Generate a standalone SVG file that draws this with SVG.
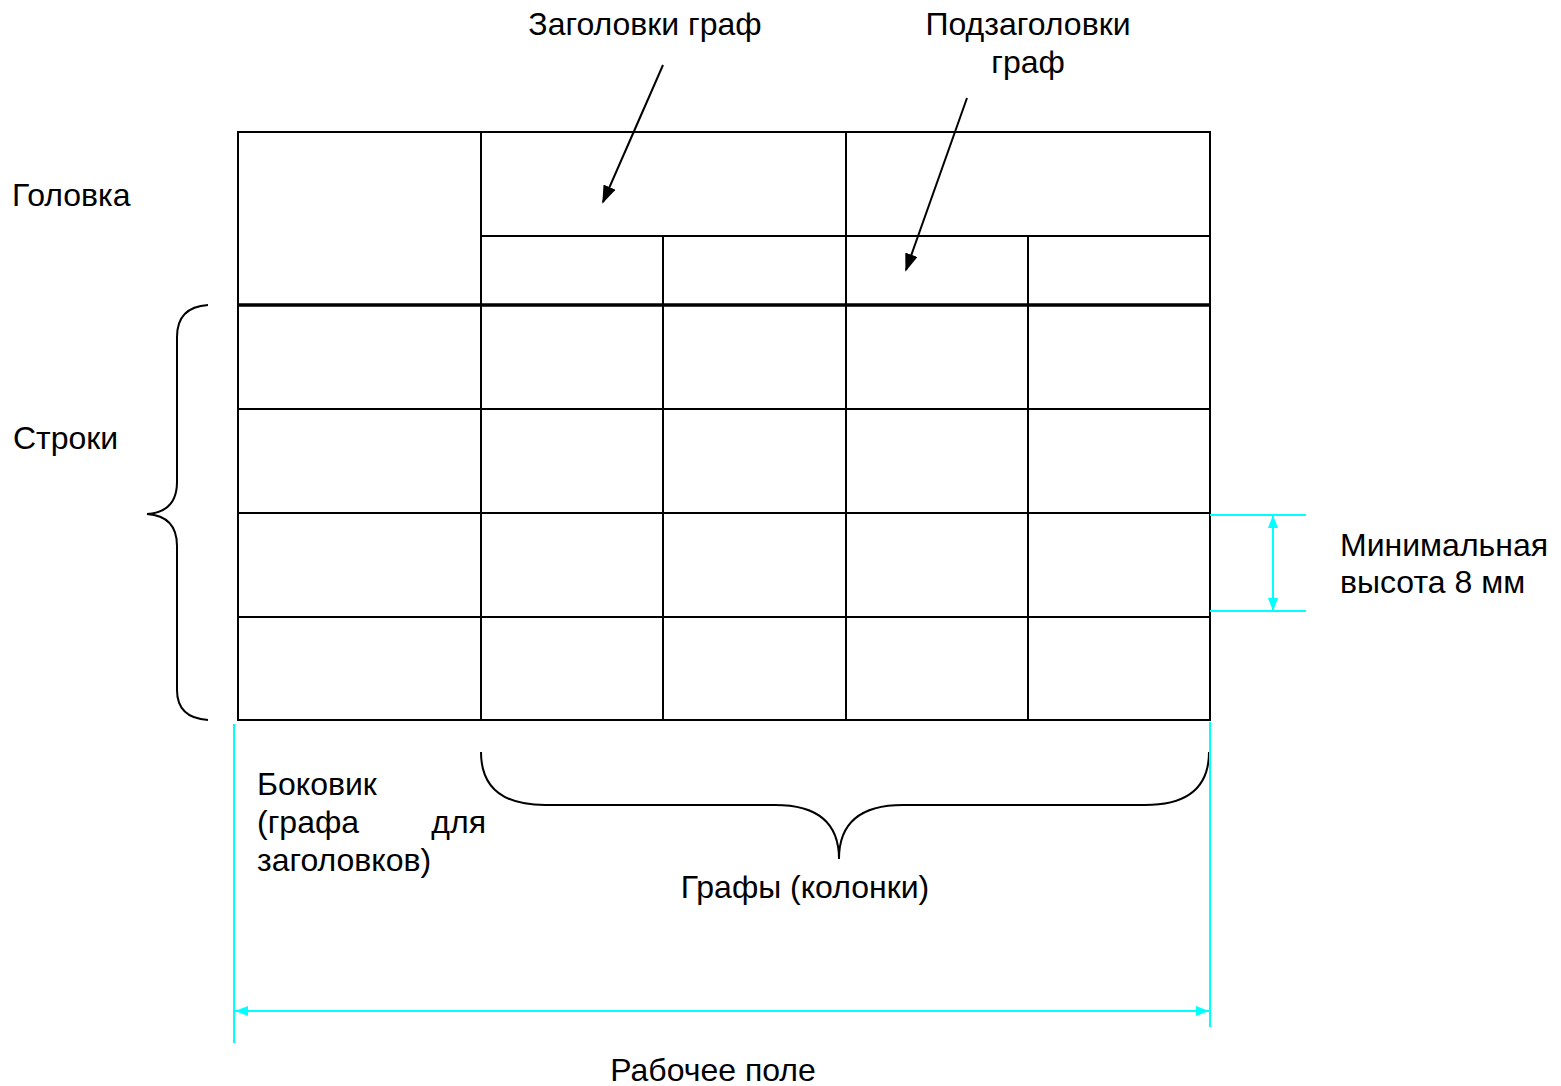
<svg xmlns="http://www.w3.org/2000/svg" width="1561" height="1086" viewBox="0 0 1561 1086">
  <style>
    .t { font-family: "Liberation Sans", Arial, sans-serif; font-size: 32px; fill: #000; }
    .grid { stroke: #000; stroke-width: 2; fill: none; }
    .thick { stroke: #000; stroke-width: 3.5; fill: none; }
    .brace { stroke: #000; stroke-width: 2; fill: none; }
    .cy { stroke: #00ffff; stroke-width: 2; fill: none; }
    .ptr { stroke: #000; stroke-width: 2; fill: none; }
  </style>
  <defs>
    <marker id="ah" viewBox="0 0 10 10" refX="9" refY="5" markerWidth="18" markerHeight="13" markerUnits="userSpaceOnUse" orient="auto" preserveAspectRatio="none">
      <path d="M0,0 L10,5 L0,10 z" fill="#000"/>
    </marker>
    <marker id="ca" viewBox="0 0 10 10" refX="10" refY="5" markerWidth="13" markerHeight="10" markerUnits="userSpaceOnUse" orient="auto-start-reverse" preserveAspectRatio="none">
      <path d="M0,0 L10,5 L0,10 z" fill="#00ffff"/>
    </marker>
  </defs>

  <rect width="1561" height="1086" fill="#fff"/>

  <!-- table grid -->
  <g id="table">
    <rect class="grid" x="238" y="132" width="972" height="588"/>
    <line class="grid" x1="481" y1="132" x2="481" y2="720"/>
    <line class="grid" x1="846" y1="132" x2="846" y2="720"/>
    <line class="grid" x1="663" y1="236" x2="663" y2="720"/>
    <line class="grid" x1="1028" y1="236" x2="1028" y2="720"/>
    <line class="grid" x1="481" y1="236" x2="1210" y2="236"/>
    <line class="thick" x1="238" y1="305" x2="1210" y2="305"/>
    <line class="grid" x1="238" y1="409" x2="1210" y2="409"/>
    <line class="grid" x1="238" y1="513" x2="1210" y2="513"/>
    <line class="grid" x1="238" y1="617" x2="1210" y2="617"/>
  </g>

  <!-- braces -->
  <g id="rows-brace">
    <path class="brace" d="M208,305 Q177,307 177,337 L177,482 Q177,512 147,514 Q177,516 177,546 L177,690 Q177,718 208,720"/>
  </g>
  <g id="cols-brace">
    <path class="brace" d="M481,752 Q481,805 545,805 L775,805 Q839,805 839,859 Q839,805 903,805 L1145,805 Q1209,805 1209,752"/>
  </g>

  <!-- connectors -->
  <g id="connectors">
    <line class="ptr" x1="663" y1="65" x2="603" y2="202" marker-end="url(#ah)"/>
    <line class="ptr" x1="967" y1="98" x2="906" y2="270" marker-end="url(#ah)"/>
    <!-- dimension: minimum row height -->
    <line class="cy" x1="1210" y1="515" x2="1306" y2="515"/>
    <line class="cy" x1="1210" y1="611" x2="1306" y2="611"/>
    <line class="cy" x1="1273" y1="515" x2="1273" y2="611" marker-start="url(#ca)" marker-end="url(#ca)"/>
    <!-- dimension: working area -->
    <line class="cy" x1="234" y1="724" x2="234" y2="1043"/>
    <line class="cy" x1="1210" y1="722" x2="1210" y2="1027"/>
    <line class="cy" x1="235" y1="1011" x2="1209" y2="1011" marker-start="url(#ca)" marker-end="url(#ca)"/>
  </g>

  <!-- labels -->
  <g id="labels">
    <text class="t" x="645" y="35" text-anchor="middle">Заголовки граф</text>
    <text class="t" x="1028" y="35" text-anchor="middle">Подзаголовки</text>
    <text class="t" x="1028" y="73" text-anchor="middle">граф</text>
    <text class="t" x="12" y="206">Головка</text>
    <text class="t" x="13" y="449">Строки</text>
    <text class="t" x="1340" y="556">Минимальная</text>
    <text class="t" x="1340" y="593">высота 8 мм</text>
    <text class="t" x="257" y="795">Боковик</text>
    <text class="t" x="257" y="833">(графа</text>
    <text class="t" x="486" y="833" text-anchor="end">для</text>
    <text class="t" x="257" y="871">заголовков)</text>
    <text class="t" x="805" y="898" text-anchor="middle">Графы (колонки)</text>
    <text class="t" x="713" y="1081" text-anchor="middle">Рабочее поле</text>
  </g>
</svg>
